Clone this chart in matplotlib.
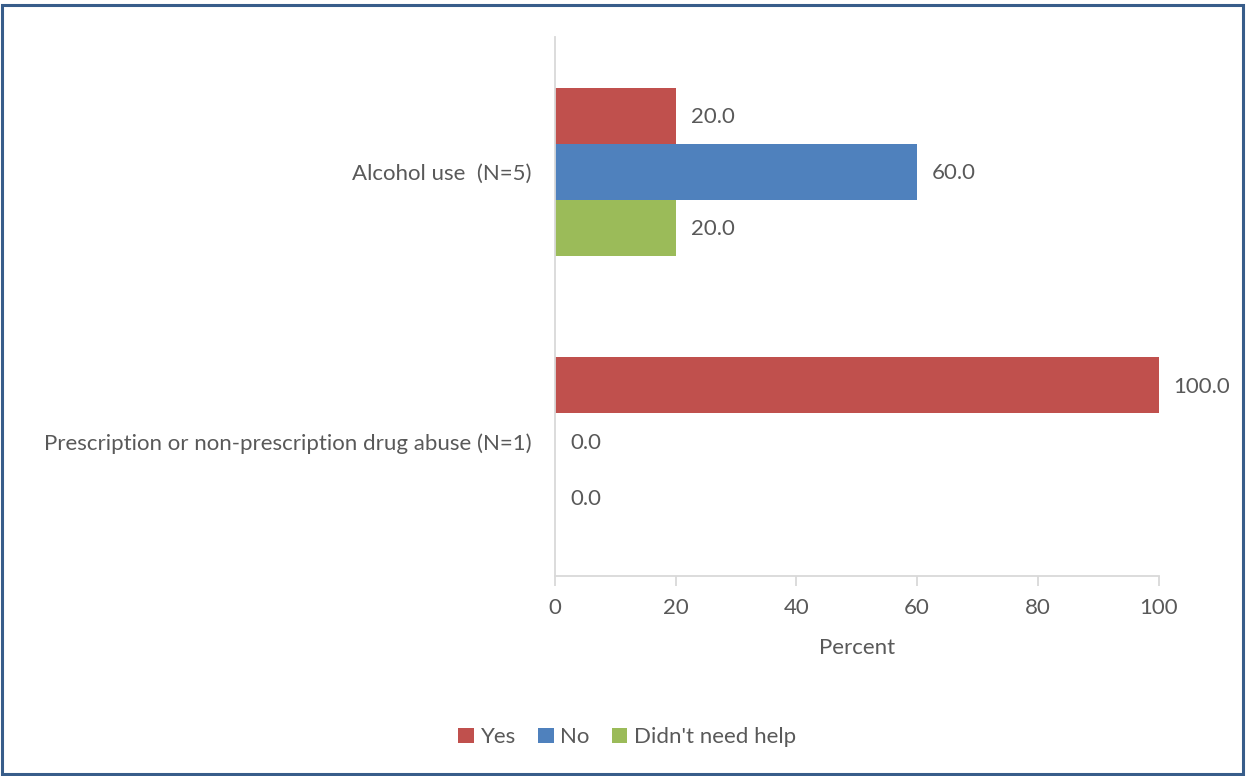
import matplotlib.pyplot as plt
from matplotlib.patches import Rectangle
import numpy as np

plt.rcParams['font.family'] = ['Lato', 'DejaVu Sans']

categories = ["Alcohol use  (N=5)", "Prescription or non-prescription drug abuse (N=1)"]
series = ["Yes", "No", "Didn't need help"]
values = {
    "Yes": [20.0, 100.0],
    "No": [60.0, 0.0],
    "Didn't need help": [20.0, 0.0],
}
colors = ["#C0504D", "#4F81BD", "#9BBB59"]
xticks = [0, 20, 40, 60, 80, 100]

txt = '#595959'
fs = 16
fig = plt.figure(figsize=(12.47, 7.76), dpi=100)
ax = fig.add_axes([0.445, 0.2577, 0.4841, 0.6946])

y = np.arange(len(categories))
h = 0.208
for i, s in enumerate(series):
    pos = y + (i - 1) * h
    bars = ax.barh(pos, values[s], height=h, color=colors[i], label=s)
    for b, v in zip(bars, values[s]):
        ax.text(v + 2.5, b.get_y() + h / 2 + 0.005, f"{v:.1f}", va='center', ha='left',
                fontsize=fs, color=txt)

ax.set_ylim(-0.5, 1.5)
ax.invert_yaxis()
ax.set_xlim(0, 100)
ax.set_yticks(y)
ax.set_yticklabels(categories, fontsize=fs, color=txt)
ax.set_xticks(xticks)
ax.set_xticklabels([str(t) for t in xticks], fontsize=fs, color=txt)
ax.tick_params(axis='y', length=0, pad=17)
ax.tick_params(axis='x', length=7, color='#D9D9D9', width=1.3, pad=9)
for sp in ['top', 'right']:
    ax.spines[sp].set_visible(False)
for sp in ['left', 'bottom']:
    ax.spines[sp].set_color('#D9D9D9')
    ax.spines[sp].set_linewidth(1.3)
ax.set_xlabel('Percent', fontsize=fs, color=txt, labelpad=14)

leg = fig.legend(loc='center', bbox_to_anchor=(0.503, 0.05), ncol=3, frameon=False,
                 fontsize=fs, handlelength=0.7, handleheight=0.7, handletextpad=0.3,
                 columnspacing=1.0)
for t in leg.get_texts():
    t.set_color(txt)

fig.patches.append(Rectangle((0.002, 0.003), 0.995, 0.99, transform=fig.transFigure,
                             fill=False, edgecolor='#385D8A', linewidth=2.2))

fig.savefig('out.png', dpi=100)
